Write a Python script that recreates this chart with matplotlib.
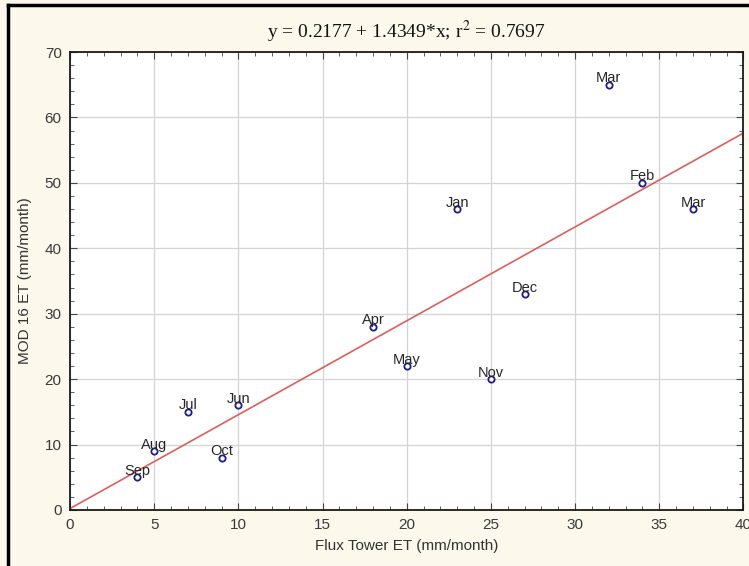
import numpy as np
import matplotlib.pyplot as plt
from matplotlib.lines import Line2D
from matplotlib.ticker import MultipleLocator

# Monthly ET values
months = ['Sep', 'Aug', 'Jul', 'Oct', 'Jun', 'Apr', 'May', 'Jan', 'Nov', 'Dec', 'Mar', 'Feb', 'Mar']
flux_et = [4, 5, 7, 9, 10, 18, 20, 23, 25, 27, 32, 34, 37]
mod16_et = [5, 9, 15, 8, 16, 28, 22, 46, 20, 33, 65, 50, 46]

# Regression line
intercept = 0.2177
slope = 1.4349
r2 = 0.7697

plt.rcParams['font.family'] = ['Liberation Sans', 'DejaVu Sans']
plt.rcParams['mathtext.fontset'] = 'stix'

bg = '#fdf8ec'
fig = plt.figure(figsize=(7.49, 5.66), dpi=100, facecolor=bg)
ax = fig.add_axes([0.0935, 0.099, 0.899, 0.809])
ax.set_facecolor('white')

# grid
ax.grid(True, color='#d4d4d4', linewidth=0.9)
ax.set_axisbelow(True)

# fit line
xs = np.array([0, 40])
ax.plot(xs, intercept + slope * xs, color='#d9605f', linewidth=1.2, zorder=2)

# points
ax.plot(flux_et, mod16_et, 'o', markersize=4.5, markerfacecolor='white',
        markeredgecolor='#1c1c8a', markeredgewidth=1.3, zorder=3)

for name, x, y in zip(months, flux_et, mod16_et):
    ax.annotate(name, (x, y), xytext=(0, 1.8), textcoords='offset points',
                ha='center', va='baseline', fontsize=10.5, color='#262626', zorder=4)

ax.set_xlim(0, 40)
ax.set_ylim(0, 70)
ax.xaxis.set_major_locator(MultipleLocator(5))
ax.xaxis.set_minor_locator(MultipleLocator(1))
ax.yaxis.set_major_locator(MultipleLocator(10))
ax.yaxis.set_minor_locator(MultipleLocator(2))
ax.tick_params(which='both', direction='in', top=True, right=True,
               labelsize=11, labelcolor='#3a3a3a', color='#444444')
ax.tick_params(which='major', length=5, width=0.8, pad=6)
ax.tick_params(which='minor', length=3, width=0.6)

for s in ax.spines.values():
    s.set_linewidth(1.3)
    s.set_color('#1a1a1a')

ax.set_xlabel('Flux Tower ET (mm/month)', fontsize=11, color='#333333', labelpad=5)
ax.set_ylabel('MOD 16 ET (mm/month)', fontsize=11, color='#333333', labelpad=9)

title = f'y = {intercept} + {slope}*x; r$^2$ = {r2}'
ax.set_title(title, fontsize=14, family='Liberation Serif', color='#111111', pad=10)

# black frame along left and top of the image
fig.add_artist(Line2D([8 / 749, 8 / 749], [0, 561 / 566], color='black', linewidth=2.5,
                      transform=fig.transFigure))
fig.add_artist(Line2D([8 / 749, 1], [561 / 566, 561 / 566], color='black', linewidth=2.5,
                      transform=fig.transFigure))

fig.savefig('out.png', dpi=100, facecolor=bg)
